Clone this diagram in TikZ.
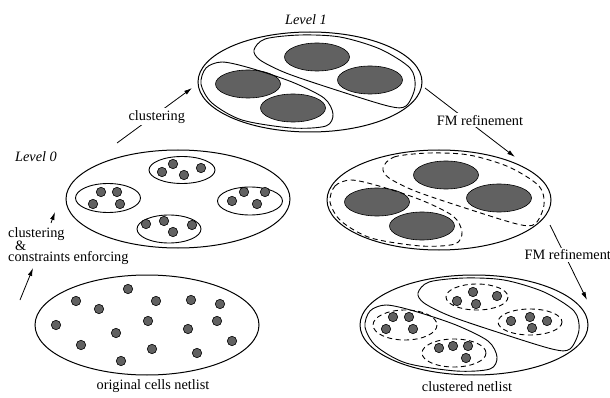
\documentclass[tikz,border=0pt]{standalone}
\usepackage{fontspec}
\setmainfont{Liberation Serif}
\usetikzlibrary{arrows.meta,shapes.geometric}
\definecolor{cellgray}{gray}{0.38}

\begin{document}
\begin{tikzpicture}[
    x=1pt, y=-1pt,
    every node/.style={font=\fontsize{14.3}{11}\selectfont},
    netlist/.style={ellipse, draw, line width=1pt, minimum width=224pt, minimum height=100pt, inner sep=0pt},
    group/.style={draw, line width=0.9pt},
    dgroup/.style={draw, line width=0.9pt, dash pattern=on 5pt off 3.5pt},
    cell/.style={draw, fill=cellgray, line width=0.6pt},
    flow/.style={-{Latex[length=8pt,width=4.5pt]}, line width=0.8pt},
    lbl/.style={fill=white, inner sep=2pt},
    level/.style={font=\fontsize{14.3}{11}\selectfont\itshape}
]
\useasboundingbox (0,0) rectangle (610,398);

% --- netlists ---
\node[netlist] (orig) at (147,325) {};
\node[netlist, minimum height=98pt] (lvlzero) at (178,199) {};
\node[netlist] (lvlone) at (310,82) {};
\node[netlist] (refined) at (439,200) {};
\node[netlist, minimum width=228pt] (clustered) at (474,325) {};

% cells of the original netlist
\foreach \x/\y in {128/289, 76/301, 99/309, 156/301, 191/300, 220/304, 56/325, 148/321,
                   217/321, 116/333, 188/329, 232/341, 81/345, 152/349, 197/353, 121/361}
    \draw[cell] (\x,\y) circle (4.7);

% --- Level 0 ---
\draw[group] (182,170) ellipse (33 and 13.5);
\draw[group] (108,198) ellipse (32.5 and 14.5);
\draw[group] (250,201) ellipse (32.5 and 14);
\draw[group] (169,229) ellipse (32 and 14);
\foreach \x/\y in {162/172, 173/164, 184/175, 201/168, 101/192, 117/192, 93/204, 120/204,
                   232/201, 244/192, 265/192, 257/204, 146/224, 164/221, 173/232, 192/225}
    \draw[cell] (\x,\y) circle (4.7);

% --- Level 1 and refined ---
\foreach \cx/\cy in {310/82, 439/200}
    \foreach \dx/\dy in {7/-25, 60/-2, -62/2, -17/26}
        \draw[cell] (\cx+\dx,\cy+\dy) ellipse (32.5 and 14);

% partitions
\foreach \cx/\cy/\sty in {310/82/group, 439/200/dgroup, 474/325/group} {
  \begin{scope}[shift={(\cx,\cy)}]
    \draw[\sty] plot[smooth cycle] coordinates {(-56,-32) (-45,-43) (-10,-47) (30,-45) (70,-33)
        (100,-14) (105,5) (96,24) (78,24) (23,7) (-24,-9) (-50,-22)};
    \draw[\sty] plot[smooth cycle] coordinates {(-109,2) (-104,-14) (-88,-20) (-60,-14) (-18,0)
        (14,16) (23,32) (16,44) (-18,46) (-68,38) (-98,21)};
  \end{scope}
}

% --- clustered netlist ---
\draw[dgroup] (477,297) ellipse (31 and 13);
\draw[dgroup] (530,322) ellipse (32 and 13);
\draw[dgroup] (405,325) ellipse (32 and 15);
\draw[dgroup] (454,353) ellipse (32 and 14);
\foreach \x/\y in {457/301, 473/292, 476/304, 497/296, 511/321, 530/317, 547/321, 532/328,
                   393/317, 409/317, 386/329, 413/329, 439/348, 453/346, 468/346, 466/358}
    \draw[cell] (\x,\y) circle (4.7);

% --- flow ---
\coordinate (a1s) at (20,300);
\coordinate (a1m) at (33,268);
\coordinate (a1n) at (51,223);
\coordinate (a1e) at (55,212);
\draw[flow] (a1s) -- (a1m);
\draw[flow] (a1n) -- (a1e);
\node[anchor=north west, align=left, inner sep=0pt] (cce) at (8,227)
    {clustering\\\hspace*{7pt}\&\\constraints enforcing};

\coordinate (a2s) at (117,143);
\coordinate (a2e) at (192,88);
\draw[flow] (a2s) -- (a2e) node[lbl, pos=0.53, yshift=-3pt] (clus) {clustering};

\coordinate (a3s) at (425,88);
\coordinate (a3e) at (515,157);
\draw[flow] (a3s) -- (a3e) node[lbl, pos=0.61, yshift=10pt] (fmone) {FM refinement};

\coordinate (a4s) at (550,225);
\coordinate (a4e) at (587,300);
\draw[flow] (a4s) -- (a4e) node[lbl, pos=0.4, xshift=3pt] (fmtwo) {FM refinement};

% --- labels ---
\node[level] (lzero) at (36,157) {Level 0};
\node[level] (lone) at (306,20) {Level 1};
\node (origlbl) at (153,386) {original cells netlist};
\node (cluslbl) at (467,387) {clustered netlist};

\end{tikzpicture}
\end{document}
